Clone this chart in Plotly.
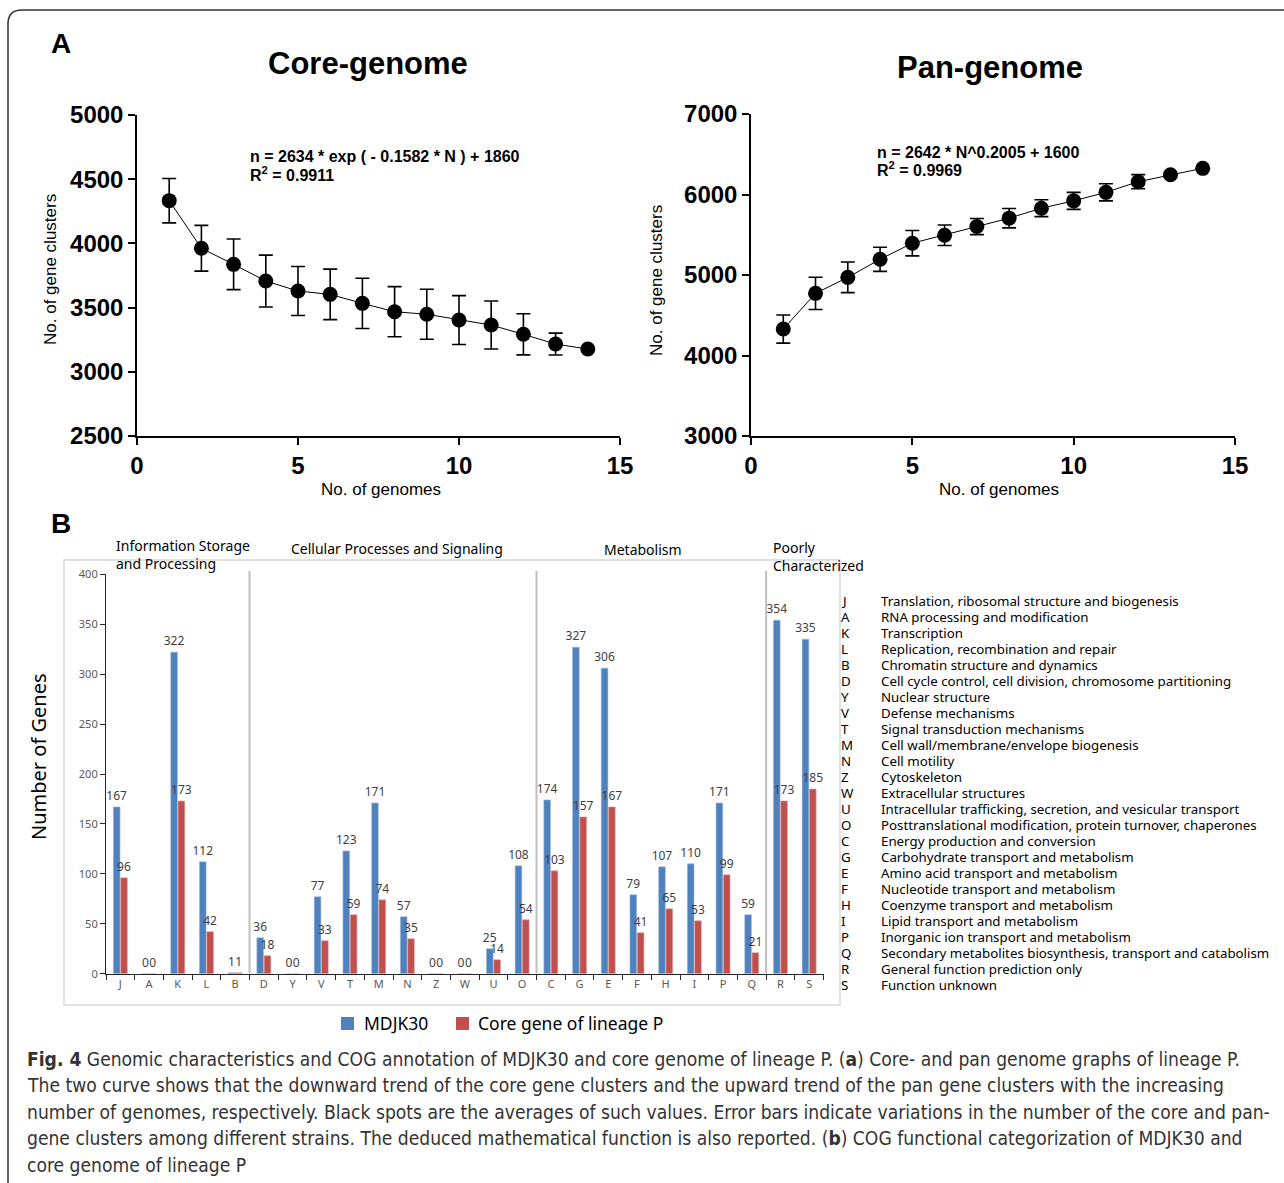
import plotly.graph_objects as go

W, H = 1284, 1183

def px(x):
    return x / W

def py(y):
    return 1 - y / H

# ---------------- Data ----------------
genomes = list(range(1, 15))
core_mean = [4333, 3962, 3837, 3707, 3629, 3603, 3533, 3468, 3448, 3403, 3364, 3292, 3216, 3177]
core_err = [173, 178, 197, 202, 191, 197, 196, 195, 195, 190, 187, 160, 85, 0]
pan_mean = [4329, 4772, 4971, 5195, 5395, 5494, 5602, 5706, 5830, 5921, 6027, 6159, 6246, 6325]
pan_err = [175, 200, 190, 150, 157, 128, 100, 120, 105, 106, 106, 88, 0, 0]

cog_cats = ["J", "A", "K", "L", "B", "D", "Y", "V", "T", "M", "N", "Z", "W", "U", "O",
            "C", "G", "E", "F", "H", "I", "P", "Q", "R", "S"]
mdjk30 = [167, 0, 322, 112, 1, 36, 0, 77, 123, 171, 57, 0, 0, 25, 108,
          174, 327, 306, 79, 107, 110, 171, 59, 354, 335]
core_lineage = [96, 0, 173, 42, 1, 18, 0, 33, 59, 74, 35, 0, 0, 14, 54,
                103, 157, 167, 41, 65, 53, 99, 21, 173, 185]
cog_desc = [
    "Translation, ribosomal structure and biogenesis",
    "RNA processing and modification",
    "Transcription",
    "Replication, recombination and repair",
    "Chromatin structure and dynamics",
    "Cell cycle control, cell division, chromosome partitioning",
    "Nuclear structure",
    "Defense mechanisms",
    "Signal transduction mechanisms",
    "Cell wall/membrane/envelope biogenesis",
    "Cell motility",
    "Cytoskeleton",
    "Extracellular structures",
    "Intracellular trafficking, secretion, and vesicular transport",
    "Posttranslational modification, protein turnover, chaperones",
    "Energy production and conversion",
    "Carbohydrate transport and metabolism",
    "Amino acid transport and metabolism",
    "Nucleotide transport and metabolism",
    "Coenzyme transport and metabolism",
    "Lipid transport and metabolism",
    "Inorganic ion transport and metabolism",
    "Secondary metabolites biosynthesis, transport and catabolism",
    "General function prediction only",
    "Function unknown",
]
group_labels = ["Information Storage<br>and Processing", "Cellular Processes and Signaling",
                "Metabolism", "Poorly<br>Characterized"]
group_bounds = [4.5, 14.5, 22.5]
series_names = ["MDJK30", "Core gene of lineage P"]

caption_lines = [
    "<b>Fig. 4</b> Genomic characteristics and COG annotation of MDJK30 and core genome of lineage P. (<b>a</b>) Core- and pan genome graphs of lineage P.",
    "The two curve shows that the downward trend of the core gene clusters and the upward trend of the pan gene clusters with the increasing",
    "number of genomes, respectively. Black spots are the averages of such values. Error bars indicate variations in the number of the core and pan-",
    "gene clusters among different strains. The deduced mathematical function is also reported. (<b>b</b>) COG functional categorization of MDJK30 and",
    "core genome of lineage P",
]

BLUE = "#4F81BD"
RED = "#C0504D"
ARIAL = "Liberation Sans, Arial"
SEGOE = "Noto Sans"
CAPTION_FONT = "DejaVu Sans Condensed, DejaVu Sans, sans-serif"

fig = go.Figure()

# ---------------- Panel A ----------------
fig.add_trace(go.Scatter(
    x=genomes, y=core_mean, mode="lines+markers",
    line=dict(color="black", width=1),
    marker=dict(color="black", size=15),
    error_y=dict(type="data", array=core_err, visible=True, color="black", thickness=1.6, width=7),
    xaxis="x", yaxis="y", showlegend=False, cliponaxis=False))

fig.add_trace(go.Scatter(
    x=genomes, y=pan_mean, mode="lines+markers",
    line=dict(color="black", width=1),
    marker=dict(color="black", size=15),
    error_y=dict(type="data", array=pan_err, visible=True, color="black", thickness=1.6, width=7),
    xaxis="x2", yaxis="y2", showlegend=False, cliponaxis=False))

# ---------------- Panel B ----------------
fig.add_trace(go.Bar(
    x=cog_cats, y=mdjk30, name=series_names[0],
    marker=dict(color=BLUE, line=dict(color="#9DB9DC", width=0.6)),
    text=mdjk30, textposition="outside", textangle=0, constraintext="none", cliponaxis=False,
    textfont=dict(family=SEGOE, size=12, color="#404040"),
    xaxis="x3", yaxis="y3", showlegend=False))
fig.add_trace(go.Bar(
    x=cog_cats, y=core_lineage, name=series_names[1],
    marker=dict(color=RED, line=dict(color="#DFA3A2", width=0.6)),
    text=core_lineage, textposition="outside", textangle=0, constraintext="none", cliponaxis=False,
    textfont=dict(family=SEGOE, size=12, color="#404040"),
    xaxis="x3", yaxis="y3", showlegend=False))

axA = dict(showline=True, linecolor="black", linewidth=1.5, ticks="outside", ticklen=7,
           tickwidth=1.5, tickcolor="black", showgrid=False, zeroline=False, automargin=False,
           tickfont=dict(family=ARIAL, size=24, color="black", weight="bold"))

fig.update_layout(
    width=W, height=H, margin=dict(l=0, r=0, t=0, b=0, pad=0, autoexpand=False),
    paper_bgcolor="white", plot_bgcolor="rgba(0,0,0,0)",
    xaxis=dict(domain=[px(137), px(620)], range=[0, 15], tickvals=[0, 5, 10, 15], anchor="y", **axA),
    yaxis=dict(domain=[py(436), py(115)], range=[2500, 5000], tickvals=[2500, 3000, 3500, 4000, 4500, 5000], anchor="x", **axA),
    xaxis2=dict(domain=[px(751), px(1235)], range=[0, 15], tickvals=[0, 5, 10, 15], anchor="y2", **axA),
    yaxis2=dict(domain=[py(436), py(114)], range=[3000, 7000], tickvals=[3000, 4000, 5000, 6000, 7000], anchor="x2", **axA),
    xaxis3=dict(domain=[px(106), px(823.5)], range=[-0.5, 24.5], anchor="y3", type="category",
                showline=True, linecolor="#262626", linewidth=1.2, ticks="outside", ticklen=5,
                tickson="boundaries", tickcolor="#262626", showgrid=False, automargin=False,
                tickfont=dict(family=SEGOE, size=11, color="#595959")),
    yaxis3=dict(domain=[py(973.7), py(574.3)], range=[0, 400], anchor="x3", dtick=50,
                showline=True, linecolor="#262626", linewidth=1.2, ticks="outside", ticklen=5,
                tickcolor="#262626", showgrid=False, zeroline=False, automargin=False,
                tickfont=dict(family=SEGOE, size=11, color="#595959")),
    barmode="group", bargap=0.49, bargroupgap=0.09,
    showlegend=False,
)

shapes = []
# outer frame
shapes.append(dict(type="path", xref="paper", yref="paper",
                   path=f"M {px(8)},{py(1183)} L {px(8)},{py(24)} Q {px(8)},{py(10)} {px(22)},{py(10)} L {px(1284)},{py(10)}",
                   line=dict(color="#333333", width=1.5)))
# panel B box
shapes.append(dict(type="rect", xref="paper", yref="paper", x0=px(64), x1=px(840), y0=py(1005), y1=py(560),
                   line=dict(color="#D9D9D9", width=1.5), layer="below"))
for b in group_bounds:
    shapes.append(dict(type="line", xref="x3", yref="paper", x0=b, x1=b, y0=py(973), y1=py(571),
                       line=dict(color="#BFBFBF", width=2), layer="below"))
# legend squares
for x0, col in [(341, BLUE), (456, RED)]:
    shapes.append(dict(type="rect", xref="paper", yref="paper", x0=px(x0), x1=px(x0 + 13),
                       y0=py(1030), y1=py(1017), fillcolor=col, line=dict(width=0)))
fig.update_layout(shapes=shapes)

ann = []
def A(x, y, text, size, family=ARIAL, color="black", xanchor="center", yanchor="middle", angle=0,
      bold=False, align="left"):
    f = dict(family=family, size=size, color=color)
    if bold:
        f["weight"] = "bold"
    ann.append(dict(x=px(x), y=py(y), xref="paper", yref="paper", text=text, showarrow=False,
                    font=f, xanchor=xanchor, yanchor=yanchor, textangle=angle, align=align))

A(49, 43, "A", 28, bold=True, xanchor="left")
A(49, 523, "B", 28, bold=True, xanchor="left")
A(368, 63, "Core-genome", 31, bold=True)
A(990, 67, "Pan-genome", 31, bold=True)
A(381, 489, "No. of genomes", 17)
A(999, 489, "No. of genomes", 17)
A(50, 270, "No. of gene clusters", 17, angle=-90)
A(656, 280, "No. of gene clusters", 17, angle=-90)
A(248, 157, "n = 2634 * exp ( - 0.1582 * N ) + 1860", 16, bold=True, xanchor="left")
A(248, 174, "R<sup>2</sup> = 0.9911", 16, bold=True, xanchor="left")
A(875, 152, "n = 2642 * N^0.2005 + 1600", 16, bold=True, xanchor="left")
A(875, 169, "R<sup>2</sup> = 0.9969", 16, bold=True, xanchor="left")

# panel B texts
A(38, 757, "Number of Genes", 20, family=SEGOE, angle=-90)
A(114, 555, group_labels[0], 14, family=SEGOE, xanchor="left", align="left")
A(289, 548, group_labels[1], 14, family=SEGOE, xanchor="left")
A(643, 549, group_labels[2], 14, family=SEGOE)
A(771, 556, group_labels[3], 14, family=SEGOE, xanchor="left", align="left")

for i, (c, d) in enumerate(zip(cog_cats, cog_desc)):
    yy = 601 + i * 16
    A(839, yy, c, 13.3, family=SEGOE, xanchor="left")
    A(879, yy, d, 13.3, family=SEGOE, xanchor="left")

# legend texts
A(362, 1023, series_names[0], 17.5, family=SEGOE, xanchor="left")
A(476, 1023, series_names[1], 17.5, family=SEGOE, xanchor="left")

for i, line in enumerate(caption_lines):
    A(25, 1059 + i * 26.5, line, 19.1, family=CAPTION_FONT, color="#333333", xanchor="left")

fig.update_layout(annotations=ann)

fig.write_html("out.html", config={"displayModeBar": False},
               post_script="document.body.style.margin='0';document.body.style.overflow='hidden';")
